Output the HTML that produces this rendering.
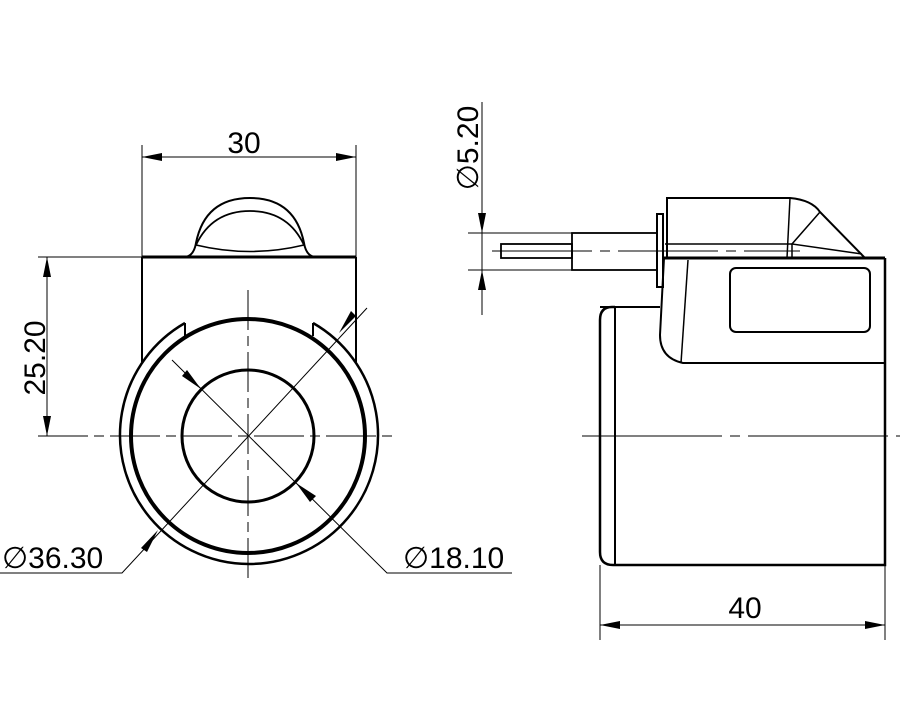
<!DOCTYPE html>
<html><head><meta charset="utf-8"><style>
html,body{margin:0;padding:0;background:#fff}
svg{display:block}
text{font-family:"Liberation Sans",sans-serif;fill:#000}
</style></head><body>
<svg width="900" height="711" viewBox="0 0 900 711" xmlns="http://www.w3.org/2000/svg">
<g fill="none" stroke="#000">
<line x1="142" y1="145" x2="142" y2="257" stroke-width="1"/>
<line x1="356" y1="145" x2="356" y2="257" stroke-width="1"/>
<line x1="142" y1="157" x2="356" y2="157" stroke-width="1"/>
<line x1="38" y1="257" x2="142" y2="257" stroke-width="1"/>
<line x1="47" y1="257" x2="47" y2="436" stroke-width="1"/>
<line x1="142" y1="257" x2="356" y2="257" stroke-width="3"/>
<line x1="142" y1="257" x2="142" y2="362" stroke-width="2"/>
<line x1="356" y1="257" x2="356" y2="362" stroke-width="2"/>
<path d="M186,257 Q194,255 196,243 Q205,198 250,198 Q295,198 304,243 Q306,255 314,257" stroke-width="2"/>
<path d="M196,245 Q212,211 250,211 Q288,211 304,245" stroke-width="1.8"/>
<path d="M196,245 Q250,258 304,245" stroke-width="1.6"/>
<line x1="38" y1="436" x2="395" y2="436" stroke-width="1" stroke-dasharray="50,6,10,6"/>
<line x1="248" y1="290" x2="248" y2="580" stroke-width="1" stroke-dasharray="40,6,10,6"/>
<path d="M185,323 A129,129 0 1 0 313,323" stroke-width="2.5"/>
<line x1="185" y1="323" x2="185" y2="336" stroke-width="2"/>
<line x1="313" y1="323" x2="313" y2="336" stroke-width="2"/>
<circle cx="248" cy="436" r="117" stroke-width="4"/>
<circle cx="248" cy="436" r="66" stroke-width="3"/>
<polyline points="0,573 122,573 367,308" stroke-width="1"/>
<polyline points="172,360 387,573 512,573" stroke-width="1"/>
</g>
<g fill="#000">
<polygon points="142,157 162,153 162,161"/>
<polygon points="356,157 336,153 336,161"/>
<polygon points="43,277 47,257 51,277"/>
<polygon points="43,416 47,436 51,416"/>
<polygon points="158,530 141,548 147,552"/>
<polygon points="339,333 356,316 351,311"/>
<polygon points="201,389 182,376 187,370"/>
<polygon points="296,483 316,496 310,502"/>
</g>
<g fill="none" stroke="#000">
<line x1="582" y1="436" x2="900" y2="436" stroke-width="1" stroke-dasharray="140,8,10,8"/>
<path d="M615,307 L612,307 Q600,307 600,320 L600,552 Q600,565 613,565 L885,565 L885,258" stroke-width="2.5"/>
<line x1="615" y1="307" x2="615" y2="565" stroke-width="2"/>
<line x1="600" y1="307" x2="660" y2="307" stroke-width="2"/>
<path d="M664,258 L660,335 Q660,358 683,363 L885,363" stroke-width="2"/>
<line x1="688" y1="260" x2="681" y2="363" stroke-width="1.5"/>
<line x1="664" y1="258" x2="885" y2="258" stroke-width="3"/>
<rect x="730" y="268" width="140" height="64" rx="6" stroke-width="2"/>
<path d="M667,258 L667,198 L790,198 Q812,200 820,212 L865,258" stroke-width="2"/>
<line x1="790" y1="198" x2="787" y2="258" stroke-width="1.5"/>
<path d="M820,212 L792,244 L862,254" stroke-width="1.5"/>
<line x1="665" y1="244" x2="792" y2="244" stroke-width="1.5"/>
<line x1="792" y1="244" x2="792" y2="258" stroke-width="1.5"/>
<rect x="657" y="214" width="6" height="73" stroke-width="2"/>
<rect x="572" y="233" width="85" height="37" stroke-width="1.8"/>
<rect x="501" y="244" width="71" height="14" stroke-width="1.8"/>
<line x1="492" y1="251" x2="800" y2="251" stroke-width="1" stroke-dasharray="100,8,10,8"/>
<line x1="468" y1="233" x2="572" y2="233" stroke-width="1"/>
<line x1="468" y1="270" x2="572" y2="270" stroke-width="1"/>
<line x1="482" y1="102" x2="482" y2="315" stroke-width="1"/>
<line x1="600" y1="565" x2="600" y2="640" stroke-width="1"/>
<line x1="885" y1="565" x2="885" y2="640" stroke-width="1"/>
<line x1="600" y1="625" x2="885" y2="625" stroke-width="1"/>
</g>
<g fill="#000">
<polygon points="478,213 482,233 486,213"/>
<polygon points="478,290 482,270 486,290"/>
<polygon points="600,625 620,621 620,629"/>
<polygon points="885,625 865,621 865,629"/>
</g>
<text x="244" y="153" font-size="30" text-anchor="middle">30</text>
<text x="745" y="618" font-size="30" text-anchor="middle">40</text>
<text transform="translate(45,358) rotate(-90)" font-size="30" text-anchor="middle">25.20</text>
<text transform="translate(478,148) rotate(-90)" font-size="30" text-anchor="middle">∅5.20</text>
<text x="2" y="568" font-size="30">∅36.30</text>
<text x="403" y="568" font-size="30">∅18.10</text>
</svg>
</body></html>
